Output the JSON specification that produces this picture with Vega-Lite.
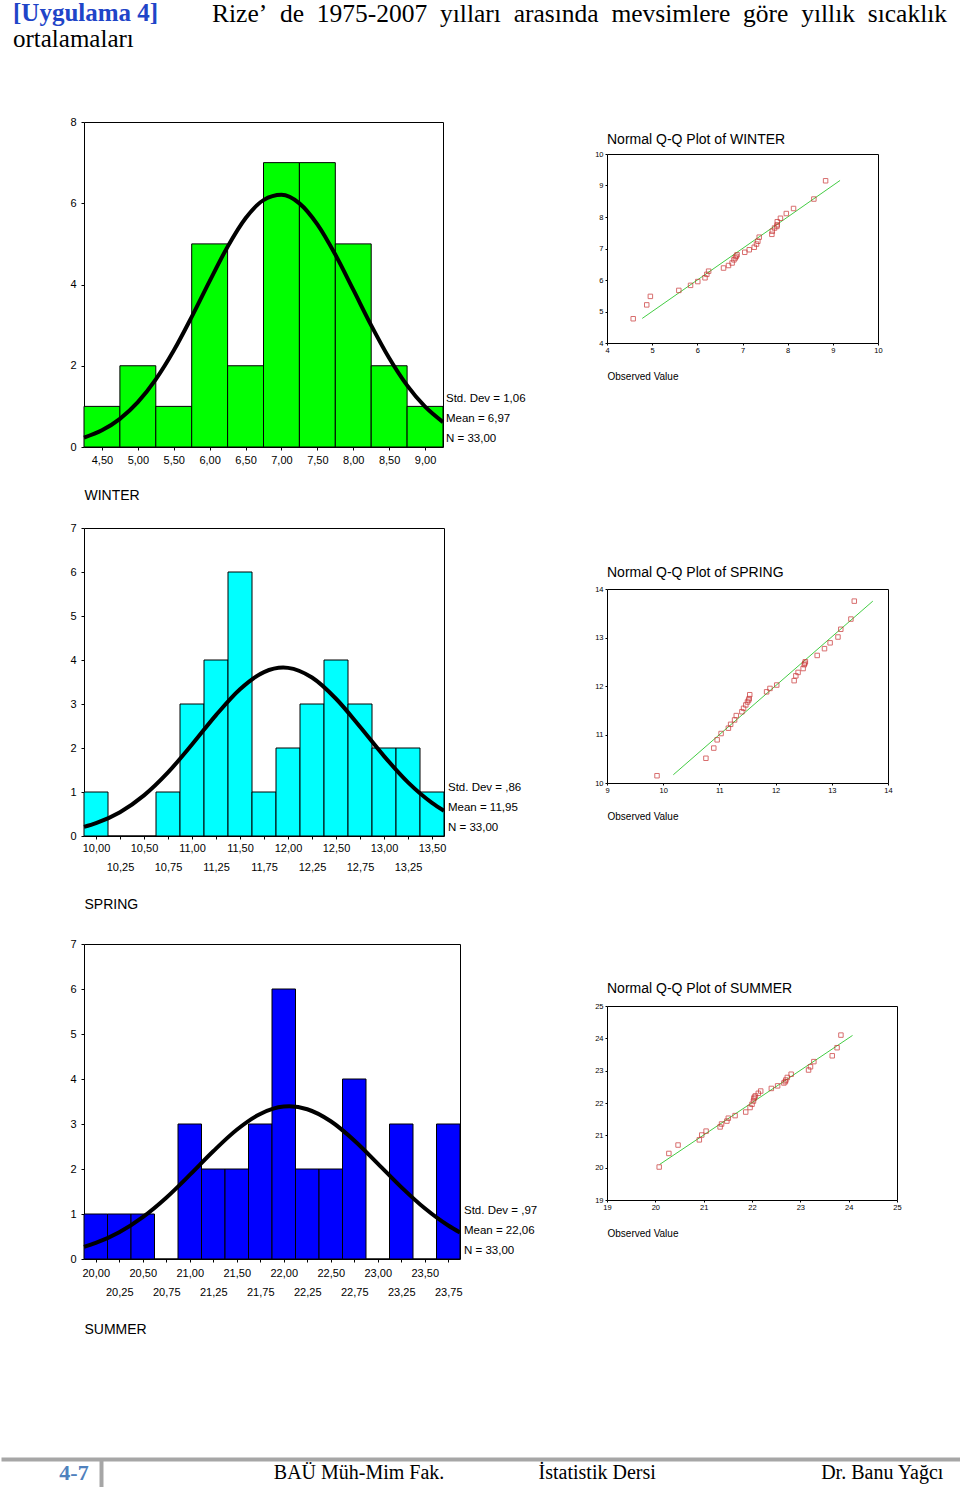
{
"$schema": "https://vega.github.io/schema/vega-lite/v6.json",
"padding": 0,
"background": "white",
"spacing": 57,
"config": {
  "font": "Liberation Sans",
  "view": {"stroke": "black", "strokeWidth": 1},
  "axis": {"grid": false, "domain": false, "labelFlush": false, "labelOverlap": false, "labelColor": "black", "titleColor": "black", "tickColor": "black", "titleFontWeight": "normal", "labelFont": "Liberation Sans", "titleFont": "Liberation Sans"},
  "axisX": {"labelOverlap": false},
  "axisQuantitative": {"labelOverlap": false},
  "title": {"font": "Liberation Sans", "fontWeight": "normal", "color": "black", "subtitleColor": "black"}
},
"vconcat": [
  {"hconcat": [
    {"width": 128, "height": 1, "view": {"stroke": null},
     "title": {"text": "[Uygulama 4]", "subtitle": "ortalamaları", "anchor": "start", "frame": "group", "dx": -71, "font": "Liberation Serif", "fontSize": 25, "fontWeight": "bold", "color": "#1f45c8", "subtitleFont": "Liberation Serif", "subtitleFontSize": 25, "subtitleFontWeight": "normal", "subtitleColor": "black", "subtitlePadding": 1, "offset": 0},
     "data": {"values": [{}]}, "mark": {"type": "point", "opacity": 0}, "encoding": {}},
    {"width": 749, "height": 1, "view": {"stroke": null},
     "title": {"text": "Rize’\u00a0 de\u00a0 1975-2007\u00a0 yılları\u00a0 arasında\u00a0 mevsimlere\u00a0 göre\u00a0 yıllık\u00a0 sıcaklık", "subtitle": "\u00a0", "anchor": "start", "frame": "group", "font": "Liberation Serif", "fontSize": 25.5, "fontWeight": "normal", "color": "black", "subtitleFont": "Liberation Serif", "subtitleFontSize": 24.5, "subtitlePadding": 1, "offset": 0},
     "data": {"values": [{}]}, "mark": {"type": "point", "opacity": 0}, "encoding": {}}
  ], "spacing": 0},
  {"spacing": 122, "vconcat": [
    {"spacing": 56, "hconcat": [
      {"spacing": 0, "vconcat": [
        {"width": 359, "height": 325,
         "encoding": {
          "x": {"field": "x", "type": "quantitative", "title": "WINTER", "scale": {"domain": [4.25, 9.25], "nice": false, "zero": false},
                "axis": {"values": [4.5, 5, 5.5, 6, 6.5, 7, 7.5, 8, 8.5, 9], "labelExpr": "replace(format(datum.value,'.2f'),'.',',')", "labelOverlap": false, "titleAnchor": "start", "titleFontSize": 14, "titleY": 48, "titleBaseline": "middle", "tickSize": 3, "labelPadding": 4, "labelFontSize": 11}},
          "y": {"field": "y", "type": "quantitative", "title": "\u00a0", "scale": {"domain": [0, 8], "nice": false},
                "axis": {"values": [0, 2, 4, 6, 8], "format": "d", "labelOverlap": false, "titleX": -83, "titleY": 160, "titleAngle": 0, "titleAlign": "left", "titleBaseline": "middle", "tickSize": 3, "labelPadding": 5, "labelFontSize": 11}}
         },
         "layer": [
          {"data": {"values": [
            {"x": 4.25, "x2": 4.75, "y": 1}, {"x": 4.75, "x2": 5.25, "y": 2}, {"x": 5.25, "x2": 5.75, "y": 1},
            {"x": 5.75, "x2": 6.25, "y": 5}, {"x": 6.25, "x2": 6.75, "y": 2}, {"x": 6.75, "x2": 7.25, "y": 7},
            {"x": 7.25, "x2": 7.75, "y": 7}, {"x": 7.75, "x2": 8.25, "y": 5}, {"x": 8.25, "x2": 8.75, "y": 2},
            {"x": 8.75, "x2": 9.25, "y": 1}]},
           "mark": {"type": "bar", "fill": "#00ff00", "stroke": "black", "strokeWidth": 1},
           "encoding": {"x2": {"field": "x2"}, "y2": {"datum": 0}}},
          {"data": {"values": [
            {"x": 4.25, "y": 0.231}, {"x": 4.5, "y": 0.411}, {"x": 4.75, "y": 0.693}, {"x": 5.0, "y": 1.104},
            {"x": 5.25, "y": 1.664}, {"x": 5.5, "y": 2.373}, {"x": 5.75, "y": 3.203}, {"x": 6.0, "y": 4.084},
            {"x": 6.25, "y": 4.93}, {"x": 6.5, "y": 5.631}, {"x": 6.75, "y": 6.077}, {"x": 7.0, "y": 6.207},
            {"x": 7.25, "y": 5.997}, {"x": 7.5, "y": 5.48}, {"x": 7.75, "y": 4.737}, {"x": 8.0, "y": 3.873},
            {"x": 8.25, "y": 2.995}, {"x": 8.5, "y": 2.191}, {"x": 8.75, "y": 1.516}, {"x": 9.0, "y": 0.992},
            {"x": 9.25, "y": 0.614}]},
           "mark": {"type": "line", "color": "black", "strokeWidth": 4, "interpolate": "monotone"}},
          {"data": {"values": [{}]},
           "mark": {"type": "text", "text": ["Std. Dev = 1,06", "Mean = 6,97", "N = 33,00"], "align": "left", "baseline": "bottom", "lineHeight": 20, "dx": 3, "dy": -43, "fontSize": 11.5},
           "encoding": {"x": {"value": "width"}, "y": {"value": "height"}}}
         ]},
        {"width": 360, "height": 308,
         "title": {"text": "\u00a0", "fontSize": 10, "offset": 8},
         "encoding": {
          "x": {"field": "x", "type": "quantitative", "title": "SPRING", "scale": {"domain": [9.875, 13.625], "nice": false, "zero": false},
                "axis": {"values": [10, 10.25, 10.5, 10.75, 11, 11.25, 11.5, 11.75, 12, 12.25, 12.5, 12.75, 13, 13.25, 13.5], "labelExpr": "replace(format(datum.value,'.2f'),'.',',')", "labelBaseline": {"condition": {"test": "round(datum.value*4)%2==1", "value": "line-top"}, "value": "top"}, "labelLineHeight": 49, "labelOverlap": false, "titleAnchor": "start", "titleFontSize": 14, "titleY": 68, "titleBaseline": "middle", "tickSize": 3, "labelPadding": 3, "labelFontSize": 11}},
          "y": {"field": "y", "type": "quantitative", "title": "\u00a0", "scale": {"domain": [0, 7], "nice": false},
                "axis": {"values": [0, 1, 2, 3, 4, 5, 6, 7], "format": "d", "labelOverlap": false, "titleX": -83, "titleY": 150, "titleAngle": 0, "titleAlign": "left", "titleBaseline": "middle", "tickSize": 3, "labelPadding": 5, "labelFontSize": 11}}
         },
         "layer": [
          {"data": {"values": [
            {"x": 9.875, "x2": 10.125, "y": 1}, {"x": 10.125, "x2": 10.375, "y": 0}, {"x": 10.375, "x2": 10.625, "y": 0},
            {"x": 10.625, "x2": 10.875, "y": 1}, {"x": 10.875, "x2": 11.125, "y": 3}, {"x": 11.125, "x2": 11.375, "y": 4},
            {"x": 11.375, "x2": 11.625, "y": 6}, {"x": 11.625, "x2": 11.875, "y": 1}, {"x": 11.875, "x2": 12.125, "y": 2},
            {"x": 12.125, "x2": 12.375, "y": 3}, {"x": 12.375, "x2": 12.625, "y": 4}, {"x": 12.625, "x2": 12.875, "y": 3},
            {"x": 12.875, "x2": 13.125, "y": 2}, {"x": 13.125, "x2": 13.375, "y": 2}, {"x": 13.375, "x2": 13.625, "y": 1}]},
           "mark": {"type": "bar", "fill": "#00ffff", "stroke": "black", "strokeWidth": 1},
           "encoding": {"x2": {"field": "x2"}, "y2": {"datum": 0}}},
          {"data": {"values": [
            {"x": 9.875, "y": 0.208}, {"x": 10.0, "y": 0.293}, {"x": 10.25, "y": 0.542}, {"x": 10.5, "y": 0.924},
            {"x": 10.75, "y": 1.446}, {"x": 11.0, "y": 2.079}, {"x": 11.25, "y": 2.748}, {"x": 11.5, "y": 3.337},
            {"x": 11.75, "y": 3.725}, {"x": 11.95, "y": 3.827}, {"x": 12.0, "y": 3.821}, {"x": 12.25, "y": 3.601},
            {"x": 12.5, "y": 3.119}, {"x": 12.75, "y": 2.483}, {"x": 13.0, "y": 1.816}, {"x": 13.25, "y": 1.219},
            {"x": 13.5, "y": 0.754}, {"x": 13.625, "y": 0.574}]},
           "mark": {"type": "line", "color": "black", "strokeWidth": 4, "interpolate": "monotone"}},
          {"data": {"values": [{}]},
           "mark": {"type": "text", "text": ["Std. Dev = ,86", "Mean = 11,95", "N = 33,00"], "align": "left", "baseline": "bottom", "lineHeight": 20, "dx": 4, "dy": -43, "fontSize": 11.5},
           "encoding": {"x": {"value": "width"}, "y": {"value": "height"}}}
         ]},
        {"width": 376, "height": 315,
         "title": {"text": "\u00a0", "fontSize": 10, "offset": 15},
         "encoding": {
          "x": {"field": "x", "type": "quantitative", "title": "SUMMER", "scale": {"domain": [19.875, 23.875], "nice": false, "zero": false},
                "axis": {"values": [20, 20.25, 20.5, 20.75, 21, 21.25, 21.5, 21.75, 22, 22.25, 22.5, 22.75, 23, 23.25, 23.5, 23.75], "labelExpr": "replace(format(datum.value,'.2f'),'.',',')", "labelBaseline": {"condition": {"test": "round(datum.value*4)%2==1", "value": "line-top"}, "value": "top"}, "labelLineHeight": 49, "labelOverlap": false, "titleAnchor": "start", "titleFontSize": 14, "titleY": 70, "titleBaseline": "middle", "tickSize": 3, "labelPadding": 5, "labelFontSize": 11}},
          "y": {"field": "y", "type": "quantitative", "title": "\u00a0", "scale": {"domain": [0, 7], "nice": false},
                "axis": {"values": [0, 1, 2, 3, 4, 5, 6, 7], "format": "d", "labelOverlap": false, "titleX": -83, "titleY": 150, "titleAngle": 0, "titleAlign": "left", "titleBaseline": "middle", "tickSize": 3, "labelPadding": 5, "labelFontSize": 11}}
         },
         "layer": [
          {"data": {"values": [
            {"x": 19.875, "x2": 20.125, "y": 1}, {"x": 20.125, "x2": 20.375, "y": 1}, {"x": 20.375, "x2": 20.625, "y": 1},
            {"x": 20.625, "x2": 20.875, "y": 0}, {"x": 20.875, "x2": 21.125, "y": 3}, {"x": 21.125, "x2": 21.375, "y": 2},
            {"x": 21.375, "x2": 21.625, "y": 2}, {"x": 21.625, "x2": 21.875, "y": 3}, {"x": 21.875, "x2": 22.125, "y": 6},
            {"x": 22.125, "x2": 22.375, "y": 2}, {"x": 22.375, "x2": 22.625, "y": 2}, {"x": 22.625, "x2": 22.875, "y": 4},
            {"x": 22.875, "x2": 23.125, "y": 0}, {"x": 23.125, "x2": 23.375, "y": 3}, {"x": 23.375, "x2": 23.625, "y": 0},
            {"x": 23.625, "x2": 23.875, "y": 3}]},
           "mark": {"type": "bar", "fill": "#0000ff", "stroke": "black", "strokeWidth": 1},
           "encoding": {"x2": {"field": "x2"}, "y2": {"datum": 0}}},
          {"data": {"values": [
            {"x": 19.875, "y": 0.268}, {"x": 20.0, "y": 0.356}, {"x": 20.25, "y": 0.595}, {"x": 20.5, "y": 0.931},
            {"x": 20.75, "y": 1.363}, {"x": 21.0, "y": 1.868}, {"x": 21.25, "y": 2.394}, {"x": 21.5, "y": 2.872},
            {"x": 21.75, "y": 3.224}, {"x": 22.0, "y": 3.387}, {"x": 22.06, "y": 3.393}, {"x": 22.25, "y": 3.328},
            {"x": 22.5, "y": 3.061}, {"x": 22.75, "y": 2.635}, {"x": 23.0, "y": 2.121}, {"x": 23.25, "y": 1.598},
            {"x": 23.5, "y": 1.127}, {"x": 23.75, "y": 0.744}, {"x": 23.875, "y": 0.59}]},
           "mark": {"type": "line", "color": "black", "strokeWidth": 4, "interpolate": "monotone"}},
          {"data": {"values": [{}]},
           "mark": {"type": "text", "text": ["Std. Dev = ,97", "Mean = 22,06", "N = 33,00"], "align": "left", "baseline": "bottom", "lineHeight": 20, "dx": 4, "dy": -43, "fontSize": 11.5},
           "encoding": {"x": {"value": "width"}, "y": {"value": "height"}}}
         ]}
      ]},
      {"spacing": 0, "vconcat": [
        {"width": 1, "height": 10, "view": {"stroke": null},
         "data": {"values": [{}]}, "mark": {"type": "point", "opacity": 0, "size": 1}, "encoding": {}},
        {"width": 271, "height": 189,
         "title": {"text": "Normal Q-Q Plot of WINTER", "anchor": "start", "frame": "group", "fontSize": 14, "offset": 3},
         "encoding": {
          "x": {"field": "obs", "type": "quantitative", "title": "Observed Value", "scale": {"domain": [4, 10], "nice": false, "zero": false},
                "axis": {"values": [4, 5, 6, 7, 8, 9, 10], "format": "d", "labelOverlap": false, "titleAnchor": "start", "titleFontSize": 10, "titlePadding": 18, "tickSize": 2, "labelPadding": 1, "labelFontSize": 7.5}},
          "y": {"field": "exp", "type": "quantitative", "title": null, "scale": {"domain": [4, 10], "nice": false, "zero": false},
                "axis": {"values": [4, 5, 6, 7, 8, 9, 10], "format": "d", "labelOverlap": false, "tickSize": 2, "labelPadding": 2, "labelFontSize": 7.5}}},
         "layer": [
          {"data": {"values": [{"obs": 4.78, "exp": 4.78}, {"obs": 9.16, "exp": 9.16}]},
           "mark": {"type": "line", "color": "#44cc44", "strokeWidth": 1}},
          {"data": {"values": [
            {"obs": 4.58, "exp": 4.77}, {"obs": 4.88, "exp": 5.21}, {"obs": 4.96, "exp": 5.48}, {"obs": 5.59, "exp": 5.67},
            {"obs": 5.85, "exp": 5.83}, {"obs": 6.01, "exp": 5.95}, {"obs": 6.17, "exp": 6.07}, {"obs": 6.21, "exp": 6.18},
            {"obs": 6.25, "exp": 6.28}, {"obs": 6.58, "exp": 6.38}, {"obs": 6.69, "exp": 6.46}, {"obs": 6.77, "exp": 6.54},
            {"obs": 6.81, "exp": 6.64}, {"obs": 6.84, "exp": 6.7}, {"obs": 6.86, "exp": 6.75}, {"obs": 6.88, "exp": 6.8},
            {"obs": 7.05, "exp": 6.88}, {"obs": 7.15, "exp": 6.96}, {"obs": 7.26, "exp": 7.04}, {"obs": 7.31, "exp": 7.14},
            {"obs": 7.34, "exp": 7.23}, {"obs": 7.37, "exp": 7.36}, {"obs": 7.65, "exp": 7.45}, {"obs": 7.66, "exp": 7.55},
            {"obs": 7.71, "exp": 7.65}, {"obs": 7.76, "exp": 7.7}, {"obs": 7.77, "exp": 7.75}, {"obs": 7.77, "exp": 7.85},
            {"obs": 7.84, "exp": 7.96}, {"obs": 7.97, "exp": 8.11}, {"obs": 8.13, "exp": 8.27}, {"obs": 8.58, "exp": 8.57},
            {"obs": 8.84, "exp": 9.15}]},
           "mark": {"type": "square", "filled": false, "color": "#c83232", "size": 20, "strokeWidth": 1}}
         ]},
        {"width": 281, "height": 194,
         "title": {"text": ["\u00a0", "Normal Q-Q Plot of SPRING"], "anchor": "start", "frame": "group", "fontSize": 14, "lineHeight": 183, "offset": 5},
         "encoding": {
          "x": {"field": "obs", "type": "quantitative", "title": "Observed Value", "scale": {"domain": [9, 14], "nice": false, "zero": false},
                "axis": {"values": [9, 10, 11, 12, 13, 14], "format": "d", "labelOverlap": false, "titleAnchor": "start", "titleFontSize": 10, "titlePadding": 18, "tickSize": 2, "labelPadding": 1, "labelFontSize": 7.5}},
          "y": {"field": "exp", "type": "quantitative", "title": null, "scale": {"domain": [10, 14], "nice": false, "zero": false},
                "axis": {"values": [10, 11, 12, 13, 14], "format": "d", "labelOverlap": false, "tickSize": 2, "labelPadding": 2, "labelFontSize": 7.5}}},
         "layer": [
          {"data": {"values": [{"obs": 10.18, "exp": 10.17}, {"obs": 13.73, "exp": 13.75}]},
           "mark": {"type": "line", "color": "#44cc44", "strokeWidth": 1}},
          {"data": {"values": [
            {"obs": 9.89, "exp": 10.15}, {"obs": 10.76, "exp": 10.51}, {"obs": 10.9, "exp": 10.72}, {"obs": 10.96, "exp": 10.89},
            {"obs": 11.03, "exp": 11.02}, {"obs": 11.16, "exp": 11.13}, {"obs": 11.2, "exp": 11.21}, {"obs": 11.27, "exp": 11.3},
            {"obs": 11.3, "exp": 11.39}, {"obs": 11.4, "exp": 11.47}, {"obs": 11.43, "exp": 11.54}, {"obs": 11.47, "exp": 11.61},
            {"obs": 11.5, "exp": 11.67}, {"obs": 11.52, "exp": 11.71}, {"obs": 11.53, "exp": 11.74}, {"obs": 11.54, "exp": 11.82},
            {"obs": 11.84, "exp": 11.88}, {"obs": 11.9, "exp": 11.95}, {"obs": 12.02, "exp": 12.02}, {"obs": 12.33, "exp": 12.11},
            {"obs": 12.36, "exp": 12.21}, {"obs": 12.4, "exp": 12.28}, {"obs": 12.49, "exp": 12.36}, {"obs": 12.51, "exp": 12.44},
            {"obs": 12.52, "exp": 12.47}, {"obs": 12.53, "exp": 12.5}, {"obs": 12.74, "exp": 12.63}, {"obs": 12.87, "exp": 12.77},
            {"obs": 12.97, "exp": 12.89}, {"obs": 13.11, "exp": 13.01}, {"obs": 13.16, "exp": 13.17}, {"obs": 13.34, "exp": 13.38},
            {"obs": 13.4, "exp": 13.75}]},
           "mark": {"type": "square", "filled": false, "color": "#c83232", "size": 20, "strokeWidth": 1}}
         ]},
        {"width": 290, "height": 194,
         "title": {"text": ["\u00a0", "Normal Q-Q Plot of SUMMER"], "anchor": "start", "frame": "group", "fontSize": 14, "lineHeight": 159, "offset": 6},
         "encoding": {
          "x": {"field": "obs", "type": "quantitative", "title": "Observed Value", "scale": {"domain": [19, 25], "nice": false, "zero": false},
                "axis": {"values": [19, 20, 21, 22, 23, 24, 25], "format": "d", "labelOverlap": false, "titleAnchor": "start", "titleFontSize": 10, "titlePadding": 18, "tickSize": 2, "labelPadding": 1, "labelFontSize": 7.5}},
          "y": {"field": "exp", "type": "quantitative", "title": null, "scale": {"domain": [19, 25], "nice": false, "zero": false},
                "axis": {"values": [19, 20, 21, 22, 23, 24, 25], "format": "d", "labelOverlap": false, "tickSize": 2, "labelPadding": 2, "labelFontSize": 7.5}}},
         "layer": [
          {"data": {"values": [{"obs": 20.09, "exp": 20.1}, {"obs": 24.08, "exp": 24.09}]},
           "mark": {"type": "line", "color": "#44cc44", "strokeWidth": 1}},
          {"data": {"values": [
            {"obs": 20.08, "exp": 20.02}, {"obs": 20.28, "exp": 20.44}, {"obs": 20.47, "exp": 20.7}, {"obs": 20.91, "exp": 20.86},
            {"obs": 20.96, "exp": 21.01}, {"obs": 21.05, "exp": 21.13}, {"obs": 21.34, "exp": 21.26}, {"obs": 21.37, "exp": 21.35},
            {"obs": 21.48, "exp": 21.44}, {"obs": 21.51, "exp": 21.53}, {"obs": 21.65, "exp": 21.61}, {"obs": 21.87, "exp": 21.72},
            {"obs": 21.96, "exp": 21.86}, {"obs": 22.0, "exp": 21.96}, {"obs": 22.03, "exp": 22.06}, {"obs": 22.04, "exp": 22.14},
            {"obs": 22.05, "exp": 22.18}, {"obs": 22.07, "exp": 22.22}, {"obs": 22.13, "exp": 22.3}, {"obs": 22.18, "exp": 22.37},
            {"obs": 22.4, "exp": 22.45}, {"obs": 22.53, "exp": 22.53}, {"obs": 22.66, "exp": 22.62}, {"obs": 22.69, "exp": 22.66},
            {"obs": 22.7, "exp": 22.71}, {"obs": 22.73, "exp": 22.79}, {"obs": 22.81, "exp": 22.89}, {"obs": 23.17, "exp": 23.02},
            {"obs": 23.21, "exp": 23.12}, {"obs": 23.28, "exp": 23.28}, {"obs": 23.66, "exp": 23.46}, {"obs": 23.76, "exp": 23.71},
            {"obs": 23.84, "exp": 24.1}]},
           "mark": {"type": "square", "filled": false, "color": "#c83232", "size": 20, "strokeWidth": 1}}
         ]}
      ]}
    ]},
    {"width": 877, "height": 28, "view": {"stroke": null},
     "resolve": {"scale": {"x": "independent"}, "axis": {"x": "independent"}},
     "layer": [
      {"data": {"values": [{"t": "4-7"}]},
       "mark": {"type": "text", "font": "Liberation Serif", "fontSize": 22, "fontWeight": "bold", "color": "#4f81bd"},
       "encoding": {
        "x": {"field": "t", "type": "nominal", "scale": {"type": "point", "range": [-83, 877], "align": 0.076}, "axis": {"orient": "top", "domain": true, "domainColor": "#a6a6a6", "domainWidth": 4, "ticks": false, "labels": false, "title": null}},
        "y": {"field": "t", "type": "nominal", "scale": {"type": "point"}, "axis": {"orient": "left", "offset": -17, "domain": true, "domainColor": "#a6a6a6", "domainWidth": 4, "ticks": false, "labels": false, "title": null}},
        "text": {"field": "t"}}},
      {"data": {"values": [{"t": "BAÜ Müh-Mim Fak."}]},
       "mark": {"type": "text", "font": "Liberation Serif", "fontSize": 20, "color": "black"},
       "encoding": {
        "x": {"field": "t", "type": "nominal", "scale": {"type": "point", "range": [-83, 877], "align": 0.373}, "axis": null},
        "text": {"field": "t"}}},
      {"data": {"values": [{"t": "İstatistik Dersi"}]},
       "mark": {"type": "text", "font": "Liberation Serif", "fontSize": 20, "color": "black"},
       "encoding": {
        "x": {"field": "t", "type": "nominal", "scale": {"type": "point", "range": [-83, 877], "align": 0.621}, "axis": null},
        "text": {"field": "t"}}},
      {"data": {"values": [{"t": "Dr. Banu Yağcı"}]},
       "mark": {"type": "text", "font": "Liberation Serif", "fontSize": 20, "color": "black"},
       "encoding": {
        "x": {"field": "t", "type": "nominal", "scale": {"type": "point", "range": [-83, 877], "align": 0.918}, "axis": null},
        "text": {"field": "t"}}}
     ]}
  ]}
]
}
